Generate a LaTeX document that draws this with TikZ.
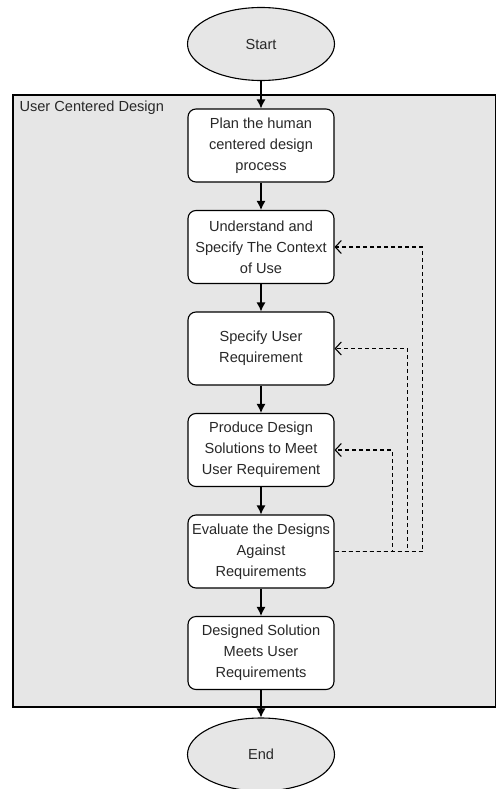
\documentclass[tikz,border=0pt]{standalone}
\usepackage{fontspec}
\setmainfont{Liberation Sans}
\usetikzlibrary{positioning, shapes.geometric, arrows.meta}
\definecolor{panelGray}{RGB}{230,230,230}
\definecolor{textGray}{RGB}{40,40,40}
\tikzset{
    stepbox/.style={
        rectangle,
        rounded corners=8pt,
        draw,
        line width=1.1pt,
        fill=white,
        text=textGray,
        minimum width=146pt,
        minimum height=73pt,
        align=center,
        font=\fontsize{14.6}{21}\selectfont
    },
    terminal/.style={
        ellipse,
        draw,
        line width=1.1pt,
        fill=panelGray,
        text=textGray,
        minimum width=147pt,
        minimum height=73pt,
        font=\fontsize{14.6}{21}\selectfont
    },
    flow/.style={
        -{Latex[length=9pt,width=9pt]},
        line width=1.2pt
    },
    feedback/.style={
        -{Straight Barb[length=6pt,width=13pt]},
        line width=1.1pt,
        dash pattern=on 4pt off 3pt
    }
}

\begin{document}
\begin{tikzpicture}[x=1pt, y=-1pt, node distance=27.4pt]
    \useasboundingbox (0,0) rectangle (496,789);

    % panel
    \draw[line width=1.1pt, fill=panelGray] (13,95) rectangle (495.4,707);
    \node[anchor=west, text=textGray, font=\fontsize{14.6}{21}\selectfont] (panel_label) at (16,108) {User Centered Design};

    \node[terminal] (start) at (261,44) {Start};
    \node[stepbox, below=of start] (plan) {Plan the human\\centered design\\process};
    \node[stepbox, below=of plan] (context) {Understand and\\Specify The Context\\of Use};
    \node[stepbox, below=of context] (userreq) {Specify User\\Requirement};
    \node[stepbox, below=of userreq] (produce) {Produce Design\\Solutions to Meet\\User Requirement};
    \node[stepbox, below=of produce] (evaluate) {Evaluate the Designs\\Against\\Requirements};
    \node[stepbox, below=of evaluate] (meets) {Designed Solution\\Meets User\\Requirements};
    \node[terminal, below=of meets] (finish) {End};

    % main flow
    \draw[flow] (start) -- (plan);
    \draw[flow] (plan) -- (context);
    \draw[flow] (context) -- (userreq);
    \draw[flow] (userreq) -- (produce);
    \draw[flow] (produce) -- (evaluate);
    \draw[flow] (evaluate) -- (meets);
    \draw[flow] (meets) -- (finish);

    % iterations
    \draw[feedback] (evaluate.east) -| ([xshift=58pt]produce.east) -- (produce.east);
    \draw[feedback] (evaluate.east) -| ([xshift=73pt]userreq.east) -- (userreq.east);
    \draw[feedback] (evaluate.east) -| ([xshift=88pt]context.east) -- (context.east);
\end{tikzpicture}
\end{document}
